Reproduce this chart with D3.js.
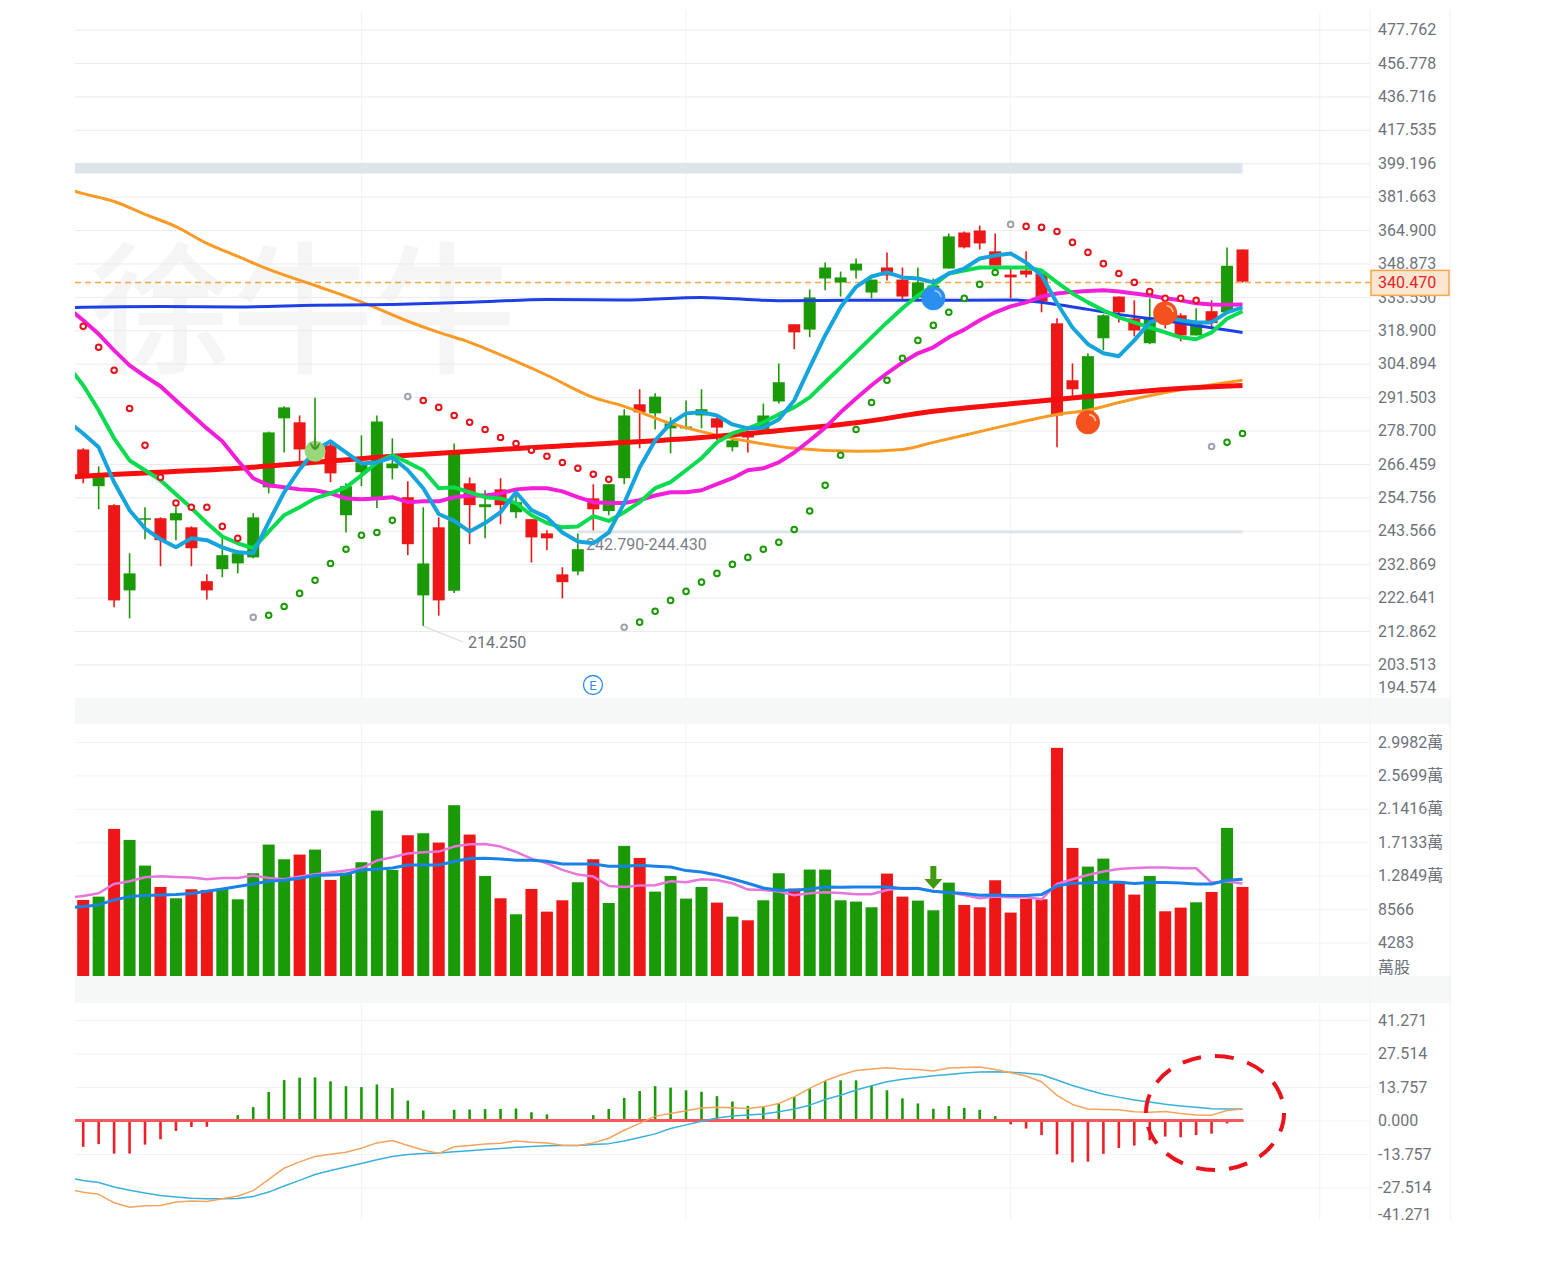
<!DOCTYPE html>
<html>
<head>
<meta charset="utf-8">
<script src="https://cdn.jsdelivr.net/npm/d3@7"></script>
<style>
  html, body { margin: 0; padding: 0; background: #fff; }
  svg { display: block; }
  text { font-family: Roboto, "Noto Sans CJK TC", sans-serif; }
  .domain { display: none; }
</style>
</head>
<body>
<svg id="chart" width="1542" height="1272"></svg>
<script>
// candles, index 0..75
const opens = [271.7,258.6,252.1,224.8,247.2,247.7,247.0,244.7,227.6,231.3,233.1,235.0,258.2,283.3,281.8,268.5,273.2,248.7,263.5,254.8,264.9,254.8,223.3,244.7,224.7,259.6,251.4,257.5,249.7,247.4,242.7,229.7,230.6,254.4,250.1,261.4,288.7,285.2,279.5,279.5,284.4,283.3,272.5,278.0,279.1,289.8,321.5,319.2,341.9,340.1,345.6,335.5,347.0,341.4,333.3,332.4,346.5,363.7,364.7,354.6,343.7,345.6,344.2,321.9,298.2,285.6,315.5,333.7,324.0,313.4,329.7,325.4,316.7,327.2,326.7,355.5];
const closes = [262.4,262.4,221.8,230.0,247.7,240.5,249.4,237.9,224.8,235.7,236.3,248.0,278.0,287.5,271.7,272.8,263.1,258.6,267.0,282.1,266.6,239.2,233.1,221.8,270.6,252.1,252.4,252.1,253.1,241.4,241.1,227.3,237.6,250.7,259.3,284.4,285.6,291.7,281.4,280.2,286.8,279.8,275.0,276.1,284.4,297.4,318.0,333.3,347.0,342.4,348.8,341.4,343.3,333.7,340.1,338.7,361.8,356.5,358.4,347.9,342.4,343.7,331.5,284.4,294.6,308.0,325.4,326.7,318.8,324.5,323.2,316.7,322.3,322.0,347.8,340.47];
const highs = [272.1,265.6,252.4,236.3,251.4,248.0,251.4,245.0,229.7,241.1,237.3,249.4,278.3,287.9,284.4,291.3,274.3,259.6,276.9,284.4,275.8,260.3,251.4,248.0,273.9,261.7,257.2,261.4,256.5,247.4,243.7,231.9,242.7,259.3,259.3,286.8,294.6,293.0,283.7,290.2,294.6,284.1,276.5,278.7,289.0,305.0,321.5,336.9,349.3,345.1,351.2,341.4,354.1,347.0,347.0,341.9,363.2,364.2,367.1,363.2,346.5,354.6,344.2,324.1,305.0,309.2,325.8,333.7,332.0,332.9,333.3,326.3,328.5,332.0,356.5,355.5];
const lows = [259.6,250.7,219.8,216.5,240.8,232.2,240.5,232.2,222.1,228.8,230.0,234.7,256.1,270.6,267.0,267.7,260.0,243.0,258.6,251.1,261.0,235.7,214.25,217.3,224.0,239.2,241.1,245.7,247.7,233.4,237.3,222.4,229.4,243.7,248.7,259.3,272.1,279.1,270.3,279.1,279.5,275.0,271.0,270.6,278.7,289.0,310.9,316.0,336.5,333.7,341.9,332.9,341.0,332.0,332.0,331.6,346.5,356.0,355.5,347.9,332.9,342.4,326.7,272.5,291.7,284.4,310.5,322.3,316.3,313.0,319.7,314.2,316.7,320.2,326.7,340.0];

// moving averages on the price panel, first value sits one candle left of the chart
const maFast = [282.2,277.6,272.5,260.0,250.4,244.3,240.8,238.2,241.1,240.5,238.2,236.6,236.3,246.4,256.5,264.5,271.4,274.7,270.6,266.6,267.0,268.8,264.2,257.9,249.1,246.8,243.3,246.1,249.7,256.5,250.4,248.0,243.0,240.1,239.5,243.0,252.8,265.2,275.0,281.4,285.2,285.6,284.4,281.0,279.5,279.8,282.9,290.2,303.4,316.7,328.9,338.1,342.8,344.7,342.4,341.9,340.1,344.2,346.5,351.2,352.6,353.6,349.3,343.3,330.7,320.1,313.0,309.2,308.0,314.6,322.3,324.5,323.2,322.3,322.3,326.7,328.9];
const maMid = [304.2,296.2,286.4,275.8,267.7,264.2,260.7,255.8,251.1,246.1,241.7,239.5,237.9,243.3,248.7,251.4,254.4,256.1,258.2,262.4,267.0,269.6,267.0,264.2,257.9,258.2,256.5,254.8,254.4,252.8,248.7,246.1,244.7,245.0,248.4,246.8,249.7,253.1,257.9,260.0,264.2,268.5,274.3,277.6,279.5,281.8,284.8,287.5,291.4,297.4,303.4,309.6,315.9,322.3,328.5,334.2,338.7,344.2,345.6,347.0,347.0,347.0,347.0,345.6,340.1,335.1,331.1,327.6,324.5,322.3,320.1,318.0,315.9,315.1,318.0,323.9,327.2];
const maSlow = [328.8,323.2,317.3,310.4,304.2,299.8,295.8,290.2,284.8,279.5,274.7,267.7,261.4,258.9,258.2,257.5,257.2,256.1,254.4,254.1,254.4,254.8,253.1,253.4,253.4,254.8,255.4,255.4,256.1,257.5,257.9,257.9,256.8,254.8,253.1,252.8,252.8,253.8,255.4,256.5,256.5,257.2,259.3,261.4,264.2,264.9,267.0,270.6,275.0,279.8,285.6,291.0,296.2,301.0,305.4,309.2,311.7,315.9,319.2,323.2,326.7,329.3,331.1,333.7,335.1,335.8,336.2,336.5,336.0,335.1,334.2,332.9,332.0,330.7,330.2,330.0,330.2];
const maOrangeIdx = [-1,0,2,4,6,8,10,12,15,18,21,23,25,28,30,33,35,38,40,43,46,50,53,55,58,60,63,65,67,70,75];
const maOrange = [385.4,383.2,379.2,372.7,366.6,358.4,352.2,346.1,338.7,331.3,322.8,318.0,313.8,305.8,300.2,291.4,287.9,281.4,278.3,274.7,272.1,271.0,271.7,274.3,278.3,281.0,284.8,286.4,289.4,293.3,298.2];
const maRedIdx = [-1,0,10,20,30,40,45,50,55,60,65,70,75];
const maRed = [261.7,262.1,264.9,269.2,272.7,276.1,278.7,281.6,286.0,288.9,291.7,294.5,296.1];
const maBlueIdx = [-1,0,5,10,15,20,25,30,35,40,45,50,55,60,63,65,67,70,72,75];
const maBlue = [328.7,328.9,329.3,329.1,329.8,330.2,331.1,332.4,332.2,333.3,331.8,332.0,332.0,332.2,330.2,328.0,325.8,323.0,321.0,318.0];

// parabolic SAR dots, one per candle
const sar = [320.6,311.7,302.2,287.1,273.2,261.7,252.8,251.4,251.4,245.0,241.1,216.8,217.4,220.0,223.9,227.9,233.1,237.6,242.1,243.0,247.0,291.7,290.2,287.5,284.4,281.8,279.1,276.1,273.9,271.4,269.2,267.0,264.9,262.8,261.0,213.9,215.4,218.6,221.8,224.5,227.3,230.0,232.8,235.0,237.6,239.8,244.0,250.1,258.9,269.6,279.1,289.4,298.2,307.1,314.6,321.0,326.7,332.9,339.2,344.7,367.7,366.7,366.2,364.2,358.9,354.1,348.8,344.2,340.1,335.9,332.9,332.9,332.0,272.8,274.3,277.6];
const sarFlips = [11,21,35,60,73]; // first dot of each new run, drawn grey
const sarUpRuns = [[11,20],[35,59],[73,75]];

// volume
const volumes = [9745,10172,18848,17438,14147,11412,9958,11112,11027,11155,9830,13164,16840,14959,15557,16198,12309,13249,14574,21199,13591,18036,18293,17096,21883,18122,12822,9958,7907,11155,8249,9702,12010,14959,9360,16669,15130,10813,12822,9916,11412,9403,7608,7138,9702,13164,11198,13634,13634,9702,9531,8804,13121,10172,9659,8420,11967,9104,8804,12266,8121,9873,9830,29234,16412,14019,15044,12181,10429,12822,8292,8762,9445,10770,18977,11412];
const volMaPink = [10000,10258,10600,11796,12138,12651,12779,12694,12608,12395,12566,12566,12865,12566,12395,12737,13036,13249,13506,13805,14788,15215,15686,15857,15942,16583,16882,16925,16583,15899,15044,14446,13591,12993,12737,11540,11412,11583,11625,12138,12010,12395,12309,11882,11070,11027,10813,10343,10600,10728,10642,10471,10471,11027,11283,11283,10813,10685,10386,9958,10172,10087,10087,9830,11796,12395,12950,13378,13720,13848,13891,13891,13805,13805,11967,12095,11839];
const volMaBlue = [8750,8890,9104,9745,10172,10300,10386,10429,10557,10856,11155,11454,11796,12138,12266,12523,12865,12950,13036,13591,13677,13848,14232,14232,14232,14660,15044,15087,15002,14831,14831,14703,14361,14361,14361,14061,14061,14190,14061,13976,13506,13335,12950,12437,11882,11283,10984,10984,11155,11412,11369,11412,11412,11412,11198,11198,10856,10685,10557,10343,10386,10300,10300,10429,11540,11882,11924,12053,12010,11839,11967,11967,11924,11796,11796,12266,12395];

// MACD
const macdHist = [-10.8,-9.7,-13.6,-13.6,-9.9,-7.7,-4.3,-2.7,-2.6,-0.3,2.2,5.5,11.7,16.6,17.6,17.7,16.1,14.1,13.7,14.8,13.3,8.2,4.1,-0.2,4.4,4.5,4.7,4.7,4.9,3.4,2.5,-0.1,0.1,2.2,4.7,9.3,12.1,14.1,13.5,12.4,11.8,10.0,7.8,6.0,5.6,6.9,9.7,13.2,16.2,16.5,16.5,14.3,12.4,9.1,7.0,4.8,5.9,5.2,4.4,1.8,-1.6,-3.3,-6.0,-13.9,-17.2,-16.9,-13.7,-11.3,-10.3,-8.1,-6.6,-6.9,-6.0,-5.4,-1.2,-0.3];
const macdDif = [-28.0,-29.5,-30.3,-33.8,-35.6,-35.0,-34.9,-33.5,-33.1,-33.3,-32.1,-31.0,-28.8,-24.2,-19.6,-17.0,-14.8,-13.9,-13.0,-11.4,-9.2,-8.2,-10.3,-12.1,-13.5,-10.8,-10.3,-9.7,-9.3,-8.4,-8.9,-9.2,-10.2,-10.3,-9.2,-7.3,-4.0,-1.2,1.8,2.9,4.0,5.1,5.4,5.2,4.9,5.6,7.0,9.7,13.2,16.3,18.7,20.5,21.1,21.7,21.1,20.9,20.3,21.6,21.8,22.0,20.9,19.6,18.3,15.9,10.3,6.6,4.7,4.5,4.4,3.6,3.4,3.7,2.9,2.3,2.2,4.1,4.7];
const macdDea = [-23.5,-24.6,-25.5,-27.3,-28.6,-29.8,-30.8,-31.4,-31.9,-32.1,-32.1,-32.0,-31.2,-29.4,-26.9,-24.6,-22.2,-20.5,-19.1,-17.7,-16.1,-14.8,-14.0,-13.6,-13.3,-12.8,-12.4,-11.9,-11.5,-11.0,-10.7,-10.4,-10.3,-10.3,-9.9,-9.5,-8.4,-7.0,-5.5,-3.3,-1.8,-0.3,1.0,1.8,2.3,2.7,3.6,4.7,6.3,8.6,10.4,12.5,14.3,15.9,16.9,17.7,18.4,18.9,19.5,19.9,20.0,19.8,19.4,18.8,16.6,14.4,12.5,10.8,9.6,8.4,7.6,6.7,6.0,5.4,4.8,4.7,4.7];

// axis labels
const priceTicks = [477.762,456.778,436.716,417.535,399.196,381.663,364.9,348.873,333.55,318.9,304.894,291.503,278.7,266.459,254.756,243.566,232.869,222.641,212.862,203.513,194.574];
const volTicks = [29982,25699,21416,17133,12849,8566,4283];
const volTickLabels = ["2.9982萬","2.5699萬","2.1416萬","1.7133萬","1.2849萬","8566","4283"];
const macdTicks = [41.271,27.514,13.757,0,-13.757,-27.514,-41.271];
const gridCandles = [18,39,60,80]; // vertical grid lines
const lastPrice = 340.47;

const RED = "#ee1717", GREEN = "#1a9a06";
const left = 75, right = 1370, edge = 1450;

const svg = d3.select("#chart");
const x = d3.scaleLinear().domain([0, 75]).range([83.2, 1242.5]);
const yPrice = d3.scaleLog().domain([477.762, 203.513]).range([29.6, 664.4]);
const yVol = d3.scaleLinear().domain([0, 29982]).range([976, 742]);
const yMacd = d3.scaleLinear().domain([41.271, -41.271]).range([1020, 1221]);

svg.append("clipPath").attr("id", "plot").append("rect")
    .attr("x", left).attr("y", 0).attr("width", right - left).attr("height", 1272);

// panel separators and right edge
[[698, 724], [976, 1003]].forEach(b => {
    svg.append("rect").attr("x", left).attr("y", b[0]).attr("width", edge - left)
        .attr("height", b[1] - b[0]).attr("fill", "#f6f8f8");
});
svg.append("line").attr("x1", edge).attr("x2", edge).attr("y1", 10).attr("y2", 1220)
    .attr("stroke", "#eceeef");

// watermark
svg.append("g").attr("clip-path", "url(#plot)").selectAll("text")
    .data(["徐", "牛", "牛"]).join("text")
    .attr("x", (d, i) => 90 + i * 142).attr("y", 362)
    .attr("font-family", "Noto Sans CJK TC").attr("font-size", 142).attr("font-weight", 500)
    .attr("fill", "#f5f5f5").text(d => d);

// vertical grid
[[10, 698], [724, 976], [1003, 1220]].forEach(r => {
    svg.append("g").selectAll("line").data(gridCandles).join("line")
        .attr("x1", d => x(d)).attr("x2", d => x(d))
        .attr("y1", r[0]).attr("y2", r[1])
        .attr("stroke", "#f2f3f4");
});
svg.append("line").attr("x1", right).attr("x2", right).attr("y1", 10).attr("y2", 1220).attr("stroke", "#f2f3f4");

// axes: ticks double as horizontal grid lines
function drawAxis(scale, values, labels, gridColor) {
    const axis = d3.axisRight(scale).tickValues(values)
        .tickSize(-(right - left)).tickPadding(8)
        .tickFormat((d, i) => labels[i]);
    const g = svg.append("g").attr("transform", `translate(${right},0)`).call(axis);
    g.selectAll("line").attr("stroke", gridColor);
    g.selectAll("text").attr("font-family", 'Roboto, "Noto Sans CJK TC", sans-serif')
        .attr("font-size", 16).attr("fill", "#6e737b");
    return g;
}
const priceAxis = drawAxis(yPrice, priceTicks, priceTicks.map(d => d.toFixed(3)), "#e9ebed");
// last label is pulled inside the panel, no grid line for it
priceAxis.selectAll(".tick").filter(d => d === 194.574)
    .call(t => t.select("line").remove())
    .call(t => t.select("text").attr("dy", "-0.33em"));
const volAxis = drawAxis(yVol, volTicks, volTickLabels, "#f1f2f3");
svg.append("text").attr("x", right + 8).attr("y", 973)
    .attr("font-family", "Noto Sans CJK TC").attr("font-size", 16).attr("fill", "#6e737b").text("萬股");
const macdAxis = drawAxis(yMacd, macdTicks, macdTicks.map(d => d.toFixed(3)), "#f1f2f3");
macdAxis.selectAll(".tick").filter(d => d === -41.271)
    .call(t => t.select("line").remove())
    .call(t => t.select("text").attr("dy", "-0.09em"));

// support / resistance zones
const zones = [[0, 399.4, 393.7], [32, 243.7, 242.7]];
svg.append("g").selectAll("rect").data(zones).join("rect")
    .attr("x", d => d[0] === 0 ? left : x(d[0]))
    .attr("width", d => x(75) - (d[0] === 0 ? left : x(d[0])))
    .attr("y", d => yPrice(d[1])).attr("height", d => yPrice(d[2]) - yPrice(d[1]))
    .attr("fill", "#dfe4ea");

// current price line
svg.append("line").attr("x1", left).attr("x2", right)
    .attr("y1", yPrice(lastPrice) + 0.8).attr("y2", yPrice(lastPrice) + 0.8)
    .attr("stroke", "#f5a64a").attr("stroke-width", 1.5).attr("stroke-dasharray", "6 4");

// candles
const candles = svg.append("g").selectAll("g").data(d3.range(opens.length)).join("g")
    .attr("fill", i => closes[i] < opens[i] ? RED : GREEN)
    .attr("stroke", i => closes[i] < opens[i] ? RED : GREEN);
candles.append("line").attr("x1", i => x(i)).attr("x2", i => x(i))
    .attr("y1", i => yPrice(highs[i])).attr("y2", i => yPrice(lows[i])).attr("stroke-width", 1.6);
candles.append("rect").attr("x", i => x(i) - 6).attr("width", 12).attr("stroke", "none")
    .attr("y", i => yPrice(Math.max(opens[i], closes[i])))
    .attr("height", i => Math.max(1.5, Math.abs(yPrice(opens[i]) - yPrice(closes[i]))));

// low label and zone label
const lowX = x(22), lowY = yPrice(214.25);
svg.append("line").attr("x1", lowX).attr("y1", lowY).attr("x2", 463).attr("y2", 642)
    .attr("stroke", "#d9dbde").attr("stroke-width", 1.2);
svg.append("text").attr("x", 468).attr("y", 648).attr("font-size", 16).attr("fill", "#6e737b").text("214.250");
svg.append("text").attr("x", 586).attr("y", 550).attr("font-size", 16).attr("fill", "#7b7f87").text("242.790-244.430");

// price moving averages
const plot = svg.append("g").attr("clip-path", "url(#plot)");
function drawLine(parent, idx, values, scale, color, width, curve) {
    const path = d3.line().x(d => x(d[0])).y(d => scale(d[1])).curve(curve || d3.curveLinear);
    parent.append("path").datum(idx.map((k, n) => [k, values[n]])).attr("d", path)
        .attr("fill", "none").attr("stroke", color).attr("stroke-width", width)
        .attr("stroke-linejoin", "round").attr("stroke-linecap", "butt");
}
const fullIdx = d3.range(-1, 76);
drawLine(plot, maOrangeIdx, maOrange, yPrice, "#f99a25", 3, d3.curveMonotoneX);
drawLine(plot, maBlueIdx, maBlue, yPrice, "#1f3fe6", 3, d3.curveMonotoneX);
drawLine(plot, maRedIdx, maRed, yPrice, "#f70f0f", 5, d3.curveMonotoneX);
drawLine(plot, fullIdx, maSlow, yPrice, "#f31ed9", 4);
drawLine(plot, fullIdx, maMid, yPrice, "#0bdb4e", 4);
drawLine(plot, fullIdx, maFast, yPrice, "#16a4dc", 4);

// SAR dots
svg.append("g").selectAll("circle").data(d3.range(sar.length)).join("circle")
    .attr("cx", i => x(i)).attr("cy", i => yPrice(sar[i])).attr("r", 2.8)
    .attr("fill", "#fff").attr("stroke-width", 2)
    .attr("stroke", i => {
        if (sarFlips.includes(i)) return "#9ea3ad";
        return sarUpRuns.some(r => i >= r[0] && i <= r[1]) ? GREEN : "#e5141c";
    });

// event markers on the candles
const balls = [[55, 332.9, "#2b8ff0", "rgba(255,255,255,0.55)"], [65, 281.8, "#f4511e", "rgba(255,225,170,0.85)"], [70, 326.3, "#f4511e", "rgba(255,225,170,0.85)"]];
const ballG = svg.append("g").selectAll("g").data(balls).join("g")
    .attr("transform", d => `translate(${x(d[0])},${yPrice(d[1])})`);
ballG.append("circle").attr("r", 12).attr("fill", d => d[2]);
ballG.append("path").attr("fill", d => d[3])
    .attr("d", d3.arc().innerRadius(7).outerRadius(8.6).startAngle(0.05 * Math.PI).endAngle(0.45 * Math.PI));

// apple marker
const apple = svg.append("g").attr("transform", `translate(${x(15)},${yPrice(271.0)})`);
apple.append("circle").attr("r", 10.5).attr("fill", "#9ad77a");
apple.append("path").attr("d", "M-6,-10 L0,-4 L6,-10 L3,-3 L0,-1 L-3,-3 Z M-1,-14 L1,-14 L1,-5 L-1,-5 Z").attr("fill", "#3f9a24");

// "E" earnings badge
const badge = svg.append("g").attr("transform", "translate(593,685)");
badge.append("circle").attr("r", 9.5).attr("fill", "#fff").attr("stroke", "#2b8ff0").attr("stroke-width", 1.3);
badge.append("text").attr("text-anchor", "middle").attr("y", 4.5).attr("font-size", 13).attr("fill", "#2b8ff0").text("E");

// last price flag
const flagY = yPrice(lastPrice) + 0.8;
svg.append("rect").attr("x", right + 1).attr("y", flagY - 12).attr("width", edge - right - 2).attr("height", 25)
    .attr("fill", "#fde6cf").attr("stroke", "#f5a64a").attr("stroke-width", 1.5);
svg.append("text").attr("x", right + 8).attr("y", flagY + 6).attr("font-size", 16).attr("fill", "#e5222a")
    .text(lastPrice.toFixed(3));

// volume bars
svg.append("g").selectAll("rect").data(volumes).join("rect")
    .attr("x", (d, i) => x(i) - 6).attr("width", 12)
    .attr("y", d => yVol(d)).attr("height", d => yVol(0) - yVol(d))
    .attr("fill", (d, i) => closes[i] < opens[i] ? RED : GREEN);
const volLines = svg.append("g").attr("clip-path", "url(#plot)");
drawLine(volLines, fullIdx, volMaPink, yVol, "#e874dd", 2.5);
drawLine(volLines, fullIdx, volMaBlue, yVol, "#1882e8", 3);
// volume down arrow
const arrowTop = yVol(14102), arrowTip = yVol(11153), ax = x(55);
svg.append("path")
    .attr("d", `M${ax - 3},${arrowTop} h6 v13 h6 L${ax},${arrowTip} L${ax - 9},${arrowTop + 13} h6 Z`)
    .attr("fill", "#3f9a10");

// MACD
svg.append("g").selectAll("line").data(macdHist).join("line")
    .attr("x1", (d, i) => x(i)).attr("x2", (d, i) => x(i))
    .attr("y1", yMacd(0)).attr("y2", d => yMacd(d))
    .attr("stroke", d => d < 0 ? "#ee1f27" : GREEN).attr("stroke-width", 2.6);
svg.append("line").attr("x1", left).attr("x2", x(75) + 1)
    .attr("y1", yMacd(0)).attr("y2", yMacd(0)).attr("stroke", "#f9575c").attr("stroke-width", 3);
const macdLines = svg.append("g").attr("clip-path", "url(#plot)");
drawLine(macdLines, fullIdx, macdDea, yMacd, "#3ab0dc", 1.5);
drawLine(macdLines, fullIdx, macdDif, yMacd, "#f5a45c", 1.5);

// hand drawn highlight circle
svg.append("ellipse").attr("cx", 1215).attr("cy", 1113).attr("rx", 69).attr("ry", 57)
    .attr("fill", "none").attr("stroke", "#e8131b").attr("stroke-width", 4)
    .attr("stroke-dasharray", "19 14");
</script>
</body>
</html>
